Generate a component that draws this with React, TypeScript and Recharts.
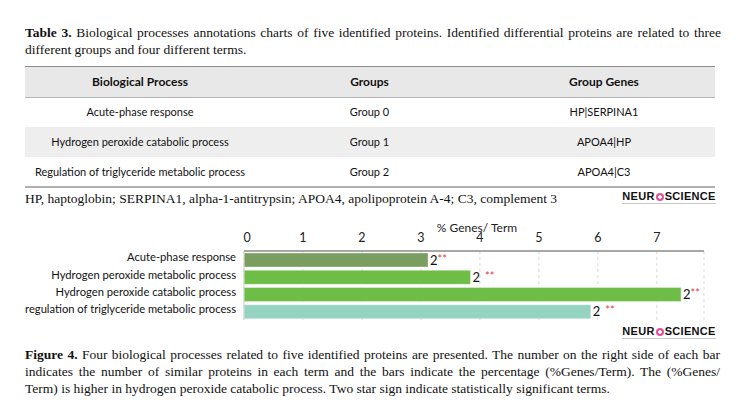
import React from "react";
import { BarChart, Bar, XAxis, YAxis, CartesianGrid, Cell, LabelList } from "recharts";

// table 3
const tableHeaders = ["Biological Process", "Groups", "Group Genes"];
const tableProcesses = [
  "Acute-phase response",
  "Hydrogen peroxide catabolic process",
  "Regulation of triglyceride metabolic process",
];
const tableGroups = ["Group 0", "Group 1", "Group 2"];
const tableGenes = ["HP|SERPINA1", "APOA4|HP", "APOA4|C3"];

// figure 4
const processes = [
  "Acute-phase response",
  "Hydrogen peroxide metabolic process",
  "Hydrogen peroxide catabolic process",
  "regulation of triglyceride metabolic process",
];
const genePct = [3.12, 3.84, 7.41, 5.88];
const geneCounts = [2, 2, 2, 2];
const sigStars = ["**", "**", "**", "**"];
const starGap = [false, true, false, true];
const barColors = ["#7a9e5f", "#6dbd46", "#6dbd46", "#96d4c2"];
const xTicks = [0, 1, 2, 3, 4, 5, 6, 7];

const data = processes.map((name, i) => ({
  name,
  pct: genePct[i],
  count: geneCounts[i],
  stars: sigStars[i],
  gap: starGap[i],
}));

const serif = "'Liberation Serif', 'Times New Roman', serif";
const sans = "Lato, 'Open Sans', sans-serif";

const justLine: React.CSSProperties = {
  textAlign: "justify",
  textAlignLast: "justify",
  whiteSpace: "nowrap",
};

function Logo({ top }: { top: number }) {
  return (
    <div
      style={{
        position: "absolute",
        left: 622,
        top,
        width: 94,
        fontFamily: "'Liberation Sans', Arial, sans-serif",
        fontWeight: 700,
        fontSize: 11,
        letterSpacing: 0.3,
        color: "#111",
        lineHeight: "12px",
        borderBottom: "1px solid #c8c8c8",
        paddingBottom: 1,
        whiteSpace: "nowrap",
        textAlign: "center",
      }}
    >
      NEUR
      <span
        style={{
          display: "inline-block",
          width: 8,
          height: 8,
          borderRadius: 4,
          background: "radial-gradient(circle, #fff 0 1.5px, #e0559a 2px)",
          margin: "0 1px",
          verticalAlign: -0.5,
        }}
      />
      SCIENCE
    </div>
  );
}

const renderStarLabel = (props: any) => {
  const { x, y, width, height, index } = props;
  const d = data[index];
  return (
    <text x={x + width + 2} y={y + height / 2 + 4.5} fontFamily={sans} fontSize={13} fill="#111">
      {d.count}
      <tspan fill="#e23b3b" fontSize={11} dx={d.gap ? 5 : 0} dy={-2}>
        {d.stars}
      </tspan>
    </text>
  );
};

const renderXTick = (props: any) => {
  const { x, y, payload } = props;
  return (
    <text
      x={x + (payload.value === 0 ? 3 : 0)}
      y={y}
      dy={-1}
      textAnchor="middle"
      fontFamily={sans}
      fontSize={12.5}
      fill="#222"
    >
      {payload.value}
    </text>
  );
};

const renderYTick = (props: any) => {
  const { x, y, payload } = props;
  return (
    <text x={x} y={y} dy={-1} dominantBaseline="middle" textAnchor="end" fontFamily={sans} fontSize={11.2} fill="#111">
      {payload.value}
    </text>
  );
};

export default function App() {
  const rowTops = [66.7, 96, 126.7, 156.7];
  const rowHeights = [29.3, 30.7, 30, 29.5];
  const colCenters = [140, 369.5, 604];
  return (
    <div
      style={{
        position: "absolute",
        left: 0,
        top: 0,
        width: 743,
        height: 416,
        background: "#fff",
        color: "#111",
        overflow: "hidden",
      }}
    >
      <div style={{ position: "absolute", left: 25, top: 24, width: 696, fontFamily: serif, fontSize: 13.5, lineHeight: "17px" }}>
        <div style={justLine}>
          <b>Table 3.</b> Biological processes annotations charts of five identified proteins. Identified differential proteins are related to three
        </div>
        <div style={{ whiteSpace: "nowrap" }}>different groups and four different terms.</div>
      </div>

      {/* table */}
      <div style={{ position: "absolute", left: 25, top: 66, width: 690, height: 30, background: "#e8e8e8", borderTop: "1.5px solid #8c8c8c", borderBottom: "1px solid #b4b4b4" }} />
      <div style={{ position: "absolute", left: 25, top: 126.7, width: 690, height: 30, background: "#eeeeee" }} />
      <div style={{ position: "absolute", left: 25, top: 185.5, width: 690, height: 0, borderTop: "2px solid #b0b0b0" }} />
      {[tableHeaders, ...tableProcesses.map((p, i) => [p, tableGroups[i], tableGenes[i]])].map((row, r) =>
        row.map((cell, c) => (
          <div
            key={`${r}-${c}`}
            style={{
              position: "absolute",
              left: colCenters[c] - 150,
              width: 300,
              top: rowTops[r],
              height: rowHeights[r],
              display: "flex",
              alignItems: "center",
              justifyContent: "center",
              fontFamily: sans,
              fontSize: r === 0 ? 12 : 11,
              fontWeight: r === 0 ? 700 : 400,
              color: "#111",
              whiteSpace: "nowrap",
            }}
          >
            {cell}
          </div>
        ))
      )}

      <div style={{ position: "absolute", left: 25, top: 190, fontFamily: serif, fontSize: 13.5, lineHeight: "17px", whiteSpace: "nowrap" }}>
        HP, haptoglobin; SERPINA1, alpha-1-antitrypsin; APOA4, apolipoprotein A-4; C3, complement 3
      </div>
      <Logo top={190} />

      <div style={{ position: "absolute", left: 0, top: 215 }}>
        <BarChart
          width={743}
          height={115}
          data={data}
          layout="vertical"
          margin={{ top: 16, right: 39, left: 14, bottom: 10 }}
          barSize={14}
        >
          <CartesianGrid stroke="#d9d9d9" strokeDasharray="3 3" horizontal={false} />
          <XAxis
            type="number"
            orientation="top"
            domain={[0, 7.8]}
            ticks={xTicks}
            height={20}
            tickLine={false}
            axisLine={{ stroke: "#8a8a8a", strokeWidth: 1.5 }}
            tick={renderXTick}
            label={{ value: "% Genes/ Term", position: "top", offset: -1, dx: 3, fontFamily: sans, fontSize: 12, fill: "#222" }}
          />
          <XAxis xAxisId="b" type="number" orientation="bottom" domain={[0, 7.8]} height={0} tick={false} tickLine={false} axisLine={{ stroke: "#cfcfcf" }} />
          <YAxis
            type="category"
            dataKey="name"
            width={230}
            tickLine={false}
            axisLine={{ stroke: "#cfcfcf" }}
            tick={renderYTick}
            interval={0}
          />
          <YAxis yAxisId="r" type="category" dataKey="name" orientation="right" width={0} tick={false} tickLine={false} axisLine={{ stroke: "#cfcfcf" }} />
          <Bar dataKey="pct" isAnimationActive={false} stroke="rgba(255,255,255,0.35)">
            {data.map((d, i) => (
              <Cell key={i} fill={barColors[i]} />
            ))}
            <LabelList dataKey="count" content={renderStarLabel} />
          </Bar>
        </BarChart>
      </div>
      <Logo top={325} />

      <div style={{ position: "absolute", left: 25, top: 346, width: 695, fontFamily: serif, fontSize: 13.5, lineHeight: "17px" }}>
        <div style={justLine}>
          <b>Figure 4.</b> Four biological processes related to five identified proteins are presented. The number on the right side of each bar
        </div>
        <div style={justLine}>
          indicates the number of similar proteins in each term and the bars indicate the percentage (%Genes/Term). The (%Genes/
        </div>
        <div style={{ whiteSpace: "nowrap" }}>
          Term) is higher in hydrogen peroxide catabolic process. Two star sign indicate statistically significant terms.
        </div>
      </div>
    </div>
  );
}
